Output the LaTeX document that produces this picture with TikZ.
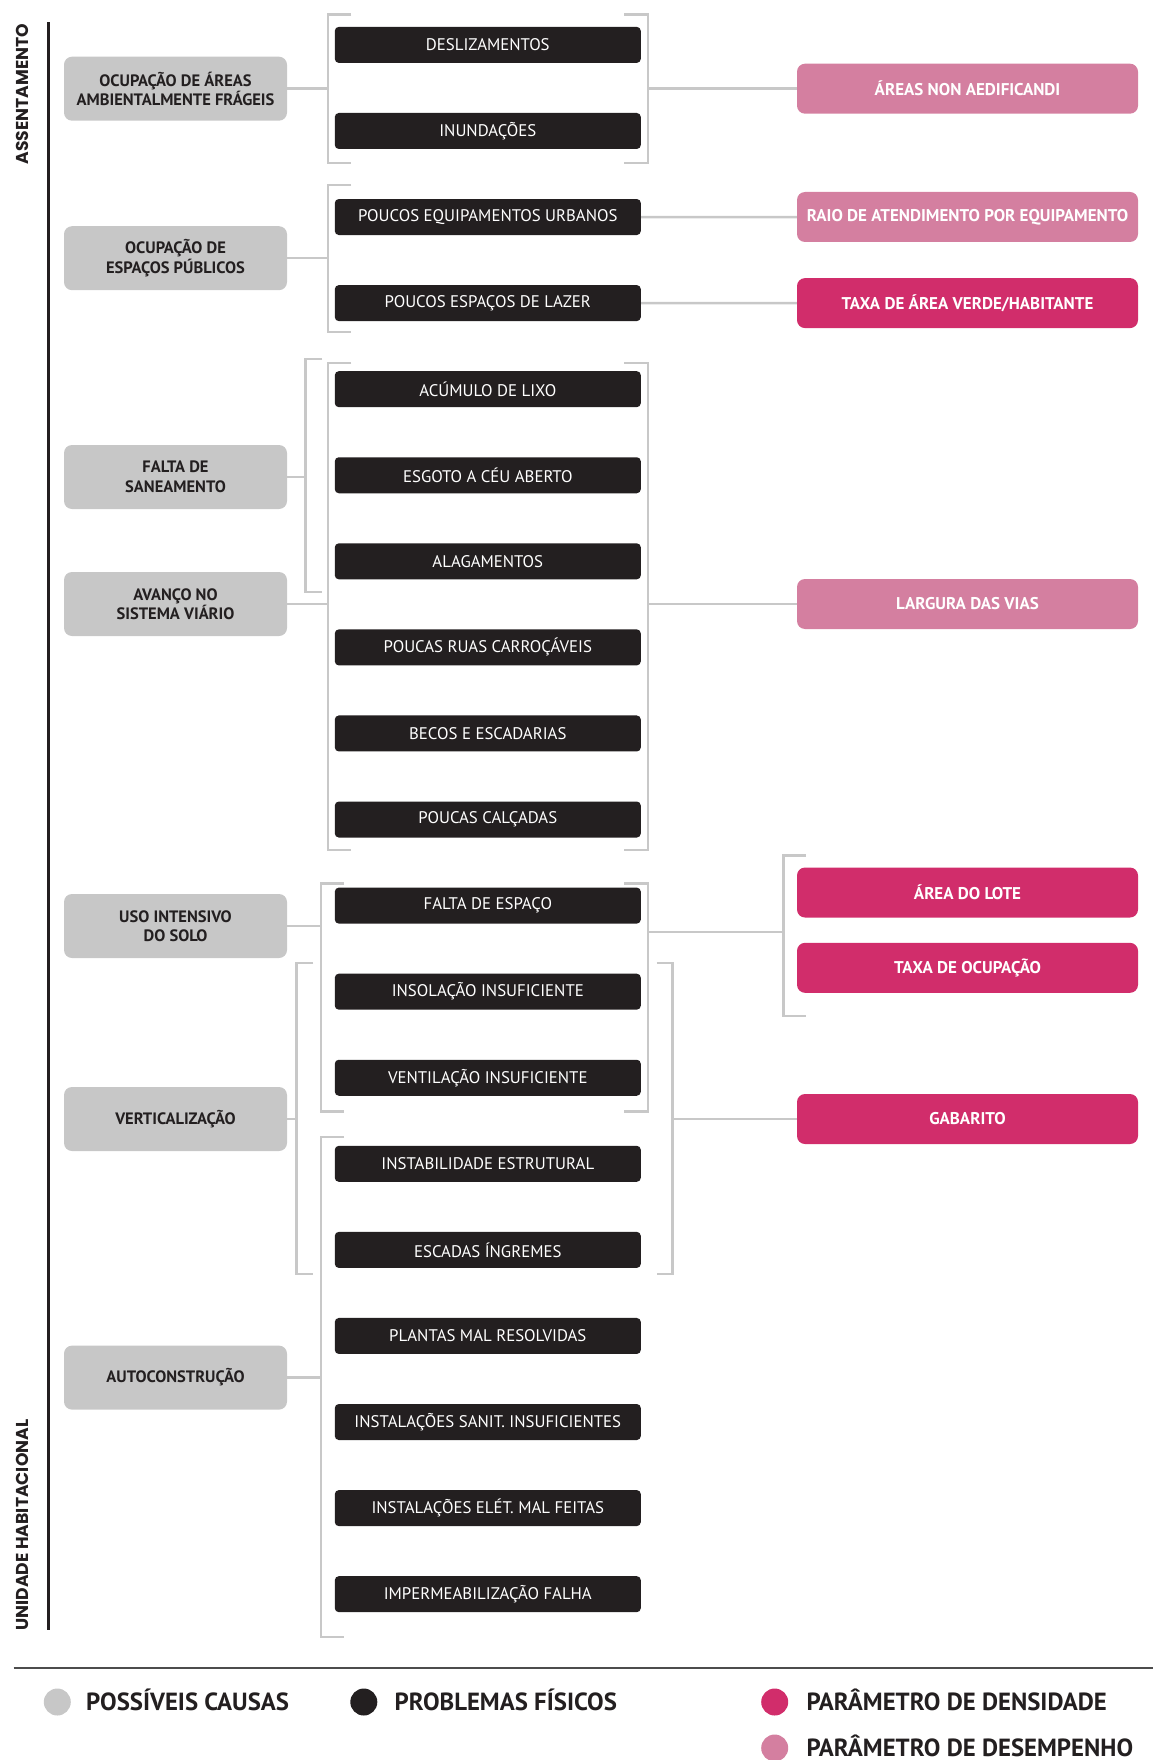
\documentclass[tikz,border=0pt]{standalone}
\usepackage{fontspec}
\setmainfont{PT Sans}
\newfontfamily\sidefont{Poppins}
\usepackage{tikz}
\usetikzlibrary{positioning}
\definecolor{cinza}{RGB}{199,199,199}
\definecolor{preto}{RGB}{35,31,32}
\definecolor{rosa}{RGB}{209,45,107}
\definecolor{rosaclaro}{RGB}{212,127,160}
\definecolor{linha}{RGB}{200,200,200}
\tikzstyle{prob} = [fill=preto, rounded corners=4pt, minimum width=306pt, minimum height=36pt, inner sep=0pt, text=white, font=\fontsize{16.8}{19}\selectfont]
\tikzstyle{causa} = [fill=cinza, rounded corners=8pt, minimum width=223pt, minimum height=64pt, inner sep=0pt, align=center, text=preto, font=\bfseries\fontsize{16.5}{19.5}\selectfont]
\tikzstyle{param} = [fill=rosa, rounded corners=8pt, minimum width=341pt, minimum height=50pt, inner sep=0pt, text=white, font=\bfseries\fontsize{17}{19}\selectfont]
\tikzstyle{brk} = [draw=linha, line width=2.5pt]
\tikzstyle{lado} = [rotate=90, text=preto, font=\sidefont\bfseries\fontsize{17.2}{19}\selectfont]
\tikzstyle{dot} = [circle, minimum size=27pt, inner sep=0pt]
\tikzstyle{leg} = [inner sep=0pt, text height=17.4pt, text depth=0pt, text=preto, font=\bfseries\fontsize{24.8}{27}\selectfont]

\begin{document}
\begin{tikzpicture}[x=1pt,y=1pt,node distance=86.07pt]
\useasboundingbox (0,0) rectangle (1153,-1760);

% side labels
\node[lado] (s1) at (22,-94) {ASSENTAMENTO};
\node[lado] (s2) at (22,-1525) {UNIDADE HABITACIONAL};
\draw[preto, line width=2.5pt] (48.3,-22.5) -- (48.3,-1630);

% physical problems
\node[prob] (p1) at (487.8,-44.9) {DESLIZAMENTOS};
\node[prob, below of = p1] (p2) {INUNDAÇÕES};
\node[prob, below of = p2] (p3) {POUCOS EQUIPAMENTOS URBANOS};
\node[prob, below of = p3] (p4) {POUCOS ESPAÇOS DE LAZER};
\node[prob, below of = p4] (p5) {ACÚMULO DE LIXO};
\node[prob, below of = p5] (p6) {ESGOTO A CÉU ABERTO};
\node[prob, below of = p6] (p7) {ALAGAMENTOS};
\node[prob, below of = p7] (p8) {POUCAS RUAS CARROÇÁVEIS};
\node[prob, below of = p8] (p9) {BECOS E ESCADARIAS};
\node[prob, below of = p9] (p10) {POUCAS CALÇADAS};
\node[prob, below of = p10] (p11) {FALTA DE ESPAÇO};
\node[prob, below of = p11] (p12) {INSOLAÇÃO INSUFICIENTE};
\node[prob, below of = p12] (p13) {VENTILAÇÃO INSUFICIENTE};
\node[prob, below of = p13] (p14) {INSTABILIDADE ESTRUTURAL};
\node[prob, below of = p14] (p15) {ESCADAS ÍNGREMES};
\node[prob, below of = p15] (p16) {PLANTAS MAL RESOLVIDAS};
\node[prob, below of = p16] (p17) {INSTALAÇÕES SANIT. INSUFICIENTES};
\node[prob, below of = p17] (p18) {INSTALAÇÕES ELÉT. MAL FEITAS};
\node[prob, below of = p18] (p19) {IMPERMEABILIZAÇÃO FALHA};

% causes
\node[causa] (c1) at (175.5,-88.7) {OCUPAÇÃO DE ÁREAS\\AMBIENTALMENTE FRÁGEIS};
\node[causa] (c2) at (175.5,-258.2) {OCUPAÇÃO DE\\ESPAÇOS PÚBLICOS};
\node[causa] (c3) at (175.5,-477) {FALTA DE\\SANEAMENTO};
\node[causa] (c4) at (175.5,-604) {AVANÇO NO\\SISTEMA VIÁRIO};
\node[causa] (c5) at (175.5,-926) {USO INTENSIVO\\DO SOLO};
\node[causa] (c6) at (175.5,-1119) {VERTICALIZAÇÃO};
\node[causa] (c7) at (175.5,-1377.6) {AUTOCONSTRUÇÃO};

% parameters
\node[param, fill=rosaclaro] (d1) at (967.5,-88.7) {ÁREAS NON AEDIFICANDI};
\node[param, fill=rosaclaro] (d2) at (967.5,-217) {RAIO DE ATENDIMENTO POR EQUIPAMENTO};
\node[param] (d3) at (967.5,-303.1) {TAXA DE ÁREA VERDE/HABITANTE};
\node[param, fill=rosaclaro] (d4) at (967.5,-604) {LARGURA DAS VIAS};
\node[param] (d5) at (967.5,-892.5) {ÁREA DO LOTE};
\node[param] (d6) at (967.5,-967.8) {TAXA DE OCUPAÇÃO};
\node[param] (d7) at (967.5,-1119) {GABARITO};

% brackets
\draw[brk] (351.4,-14.6) -| (327.8,-162.8) -- (351.4,-162.8);
\draw[brk] (624,-14.6) -| (647.8,-162.8) -- (624,-162.8);
\draw[brk] (351.4,-185) -| (327.8,-332) -- (351.4,-332);
\draw[brk] (322.4,-359) -| (305.4,-592) -- (322.4,-592);
\draw[brk] (351.4,-363) -| (327.8,-850) -- (351.4,-850);
\draw[brk] (624,-363) -| (647.8,-850) -- (624,-850);
\draw[brk] (344,-883.6) -| (321,-1111.5) -- (344,-1111.5);
\draw[brk] (624,-883.6) -| (647.8,-1111.5) -- (624,-1111.5);
\draw[brk] (806,-855.5) -| (783.6,-1016) -- (806,-1016);
\draw[brk] (313.4,-963) -| (296.4,-1274) -- (313.4,-1274);
\draw[brk] (656.5,-963) -| (672.5,-1274) -- (656.5,-1274);
\draw[brk] (344,-1137) -| (321,-1637) -- (344,-1637);

\coordinate (aL) at (327.8,-88.7);
\coordinate (aR) at (647.8,-88.7);
\coordinate (bL) at (327.8,-258.2);
\coordinate (cO) at (305.4,-477);
\coordinate (cL) at (327.8,-604);
\coordinate (cR) at (647.8,-604);
\coordinate (eL) at (321,-926);
\coordinate (eR) at (647.8,-932);
\coordinate (eP) at (783.6,-932);
\coordinate (fL) at (296.4,-1119);
\coordinate (fR) at (672.5,-1119);
\coordinate (gL) at (321,-1377.6);

\path[brk]
(c1) edge (aL)
(aR) edge (d1)
(c2) edge (bL)
(p3) edge (d2)
(p4) edge (d3)
(c3) edge (cO)
(c4) edge (cL)
(cR) edge (d4)
(c5) edge (eL)
(eR) edge (eP)
(c6) edge (fL)
(fR) edge (d7)
(c7) edge (gL);

% legend
\draw[black!70, line width=2pt] (13.5,-1668) -- (1153,-1668);
\node[dot, fill=cinza] (l1) at (57.3,-1702) {};
\node[leg, right=15pt of l1] (t1) {POSSÍVEIS CAUSAS};
\node[dot, fill=preto] (l2) at (363.8,-1702) {};
\node[leg, right=17pt of l2] (t2) {PROBLEMAS FÍSICOS};
\node[dot, fill=rosa] (l3) at (774.7,-1702) {};
\node[leg, right=18pt of l3] (t3) {PARÂMETRO DE DENSIDADE};
\node[dot, fill=rosaclaro] (l4) at (774.7,-1748) {};
\node[leg, right=18pt of l4] (t4) {PARÂMETRO DE DESEMPENHO};
\end{tikzpicture}
\end{document}
